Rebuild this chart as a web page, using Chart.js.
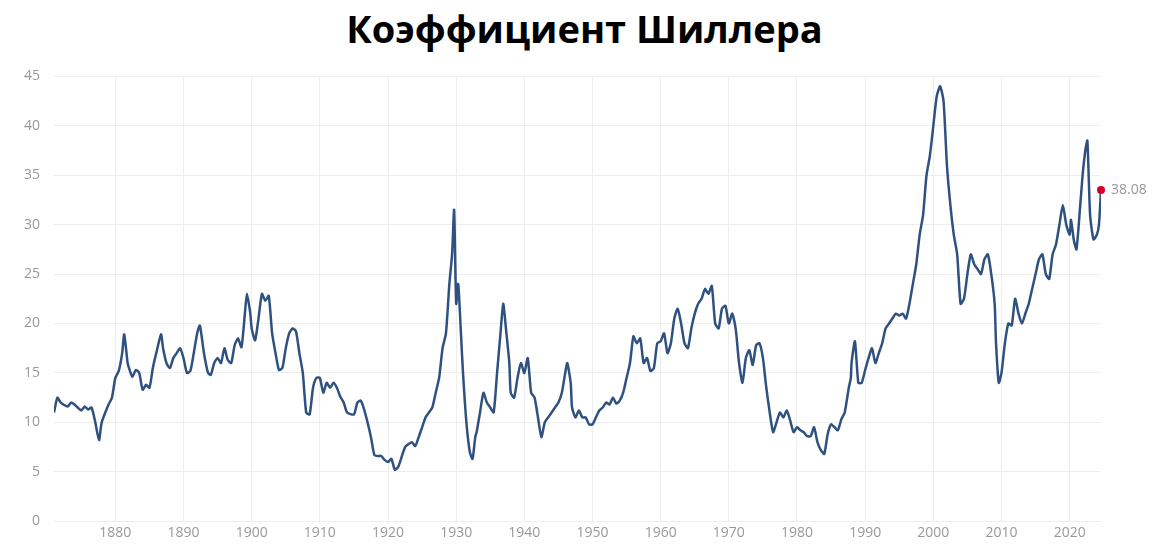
<!DOCTYPE html>
<html>
<head>
<meta charset="utf-8">
<script src="https://cdn.jsdelivr.net/npm/chart.js@4/dist/chart.umd.min.js"></script>
<style>
  body { margin: 0; background: #fff; font-family: "Open Sans", sans-serif; }
  h1 { margin: 0; height: 52px; line-height: 52px; text-align: center; font-size: 38px; font-weight: 700; color: #000; padding-top: 2px; }
  #wrap { position: relative; width: 1169px; height: 490px; }
</style>
</head>
<body>
<h1>Коэффициент Шиллера</h1>
<div id="wrap"><canvas id="cape" width="1169" height="490"></canvas></div>
<script>
const years = [1871,1871.5,1872,1873,1873.5,1874,1875,1875.5,1876,1876.5,1877,1877.6,1878,1879,1879.5,1880,1880.5,1881,1881.3,1881.8,1882,1882.5,1883,1883.5,1884,1884.5,1885,1885.5,1886,1886.7,1887,1887.5,1888,1888.5,1889,1889.5,1890,1890.5,1891,1891.5,1892,1892.4,1893,1893.6,1894,1894.5,1895,1895.5,1896,1896.5,1897,1897.5,1898,1898.5,1899,1899.3,1899.8,1900,1900.5,1901,1901.5,1902,1902.5,1903,1903.5,1904,1904.5,1905,1905.5,1906,1906.5,1907,1907.5,1908,1908.5,1909,1909.5,1910,1910.5,1911,1911.5,1912,1912.5,1913,1913.5,1914,1915,1915.5,1916,1916.5,1917,1917.5,1918,1918.5,1919,1919.5,1920,1920.5,1921,1921.5,1922,1922.5,1923,1923.5,1924,1924.5,1925,1925.5,1926,1926.5,1927,1927.5,1928,1928.5,1929,1929.4,1929.7,1930,1930.3,1930.7,1931,1931.5,1932,1932.4,1932.8,1933,1933.5,1934,1934.5,1935,1935.5,1936,1936.5,1936.9,1937.3,1937.8,1938,1938.5,1939,1939.5,1940,1940.5,1941,1941.5,1942,1942.5,1943,1943.5,1944,1944.5,1945,1945.5,1946,1946.3,1946.8,1947,1947.5,1948,1948.5,1949,1949.5,1950,1950.5,1951,1951.5,1952,1952.5,1953,1953.5,1954,1954.5,1955,1955.5,1956,1956.5,1957,1957.5,1958,1958.5,1959,1959.5,1960,1960.5,1961,1961.5,1962,1962.5,1963,1963.5,1964,1964.5,1965,1965.5,1966,1966.5,1967,1967.5,1968,1968.5,1969,1969.5,1970,1970.5,1971,1971.5,1972,1972.5,1973,1973.5,1974,1974.5,1975,1975.5,1976,1976.5,1977,1977.5,1978,1978.5,1979,1979.5,1980,1980.5,1981,1981.5,1982,1982.5,1983,1983.5,1984,1984.5,1985,1985.5,1986,1986.5,1987,1987.6,1987.9,1988,1988.5,1989,1989.5,1990,1990.5,1991,1991.5,1992,1992.5,1993,1993.5,1994,1994.5,1995,1995.5,1996,1996.5,1997,1997.5,1998,1998.5,1999,1999.5,2000,2000.5,2001,2001.5,2002,2002.5,2003,2003.5,2004,2004.5,2005,2005.5,2006,2006.5,2007,2007.5,2008,2008.5,2009,2009.2,2009.6,2010,2010.5,2011,2011.5,2012,2012.5,2013,2013.5,2014,2014.5,2015,2015.5,2016,2016.5,2017,2017.5,2018,2018.5,2019,2019.5,2020,2020.2,2020.6,2021,2021.5,2021.9,2022.3,2022.6,2023,2023.5,2024,2024.3,2024.6];
const cape = [11,12.5,12,11.6,12,11.8,11.2,11.6,11.3,11.5,10.2,8.2,10,11.8,12.5,14.5,15.2,17,18.9,16,15.5,14.6,15.3,15,13.3,13.8,13.5,15.5,17,18.9,17.5,16,15.5,16.5,17,17.5,16.5,15,15.2,17,19,19.8,17,15,14.8,16,16.5,16,17.5,16.3,16,17.8,18.5,17.6,21,23,21,19.5,18.3,20.5,23,22.3,22.8,19,17,15.3,15.5,17.5,19,19.5,19.2,17,15,11,10.8,13.5,14.5,14.5,13,14,13.5,14,13.5,12.6,12,11,10.8,12,12.2,11.3,10,8.5,6.7,6.6,6.6,6.2,6,6.3,5.2,5.5,6.5,7.5,7.8,8,7.6,8.5,9.5,10.5,11,11.5,13,14.5,17.5,19,24,27,31.5,22,24,19,15,10,7,6.3,8.5,9,11,13,12,11.5,11,15,19,22,19.5,16,13,12.5,14.5,16,15,16.5,13,12.5,10.5,8.5,10,10.5,11,11.5,12,13,15,16,14,11.5,10.5,11.2,10.5,10.5,9.8,9.8,10.5,11.2,11.5,12,11.8,12.5,11.9,12.2,13,14.5,16,18.7,18,18.5,16,16.5,15.2,15.5,18,18.2,19,17,18,20.5,21.5,20,18,17.5,19.5,21,22,22.5,23.5,23,23.8,20,19.5,21.5,21.8,20,21,19.5,16,14,16.5,17.3,15.8,17.8,18,16.5,13.5,11,9,10,11,10.5,11.2,10.2,9,9.5,9.2,9,8.6,8.6,9.5,8,7.2,6.8,8.8,9.8,9.5,9.2,10.3,11,13.5,14.5,16,18.2,14,14,15.3,16.5,17.5,16,17,18,19.5,20,20.5,21,20.8,21,20.5,22,24,26,29,31,35,37,40,43,44,42.5,36,32,29,27,22,22.5,25,27,26,25.5,25,26.5,27,25,22,18,14,15,18,20,19.8,22.5,21,20,21,22,23.5,25,26.5,27,25,24.5,27,28,30,32,30,29,30.5,28.5,27.5,31.5,35,37.5,38.5,31,28.5,29,30,33.5,35.5,38.08];

const lastLabel = {
  id: "lastLabel",
  afterDatasetsDraw(chart) {
    const pt = chart.getDatasetMeta(0).data.at(-1);
    const ctx = chart.ctx;
    ctx.save();
    ctx.fillStyle = "#d6002a";
    ctx.beginPath();
    ctx.arc(pt.x, pt.y, 4, 0, Math.PI * 2);
    ctx.fill();
    ctx.fillStyle = "#999";
    ctx.font = "14px 'Open Sans'";
    ctx.textBaseline = "middle";
    ctx.fillText(cape.at(-1).toFixed(2), pt.x + 10, pt.y);
    ctx.restore();
  },
};

new Chart(document.getElementById("cape"), {
  type: "line",
  data: {
    datasets: [{
      data: years.map((y, i) => ({ x: y, y: cape[i] })),
      borderColor: "#2f5180",
      borderWidth: 2.5,
      pointRadius: 0,
      tension: 0.2,
    }],
  },
  options: {
    responsive: false,
    animation: false,
    layout: { padding: { right: 68, left: 10, top: 8 } },
    plugins: { legend: { display: false }, tooltip: { enabled: false } },
    scales: {
      x: {
        type: "linear",
        min: 1871,
        max: 2024.6,
        afterBuildTicks: (axis) => { axis.ticks = [1880,1890,1900,1910,1920,1930,1940,1950,1960,1970,1980,1990,2000,2010,2020].map((v) => ({ value: v })); },
        ticks: { color: "#999", font: { family: "Open Sans", size: 14 }, callback: (v) => v },
        grid: { color: "#eeeeee", drawTicks: false },
        border: { display: false },
      },
      y: {
        min: 0,
        max: 45,
        ticks: { stepSize: 5, color: "#999", font: { family: "Open Sans", size: 14 }, padding: 14 },
        grid: { color: "#eeeeee", drawTicks: false },
        border: { display: false },
      },
    },
  },
  plugins: [lastLabel],
});
</script>
</body>
</html>
